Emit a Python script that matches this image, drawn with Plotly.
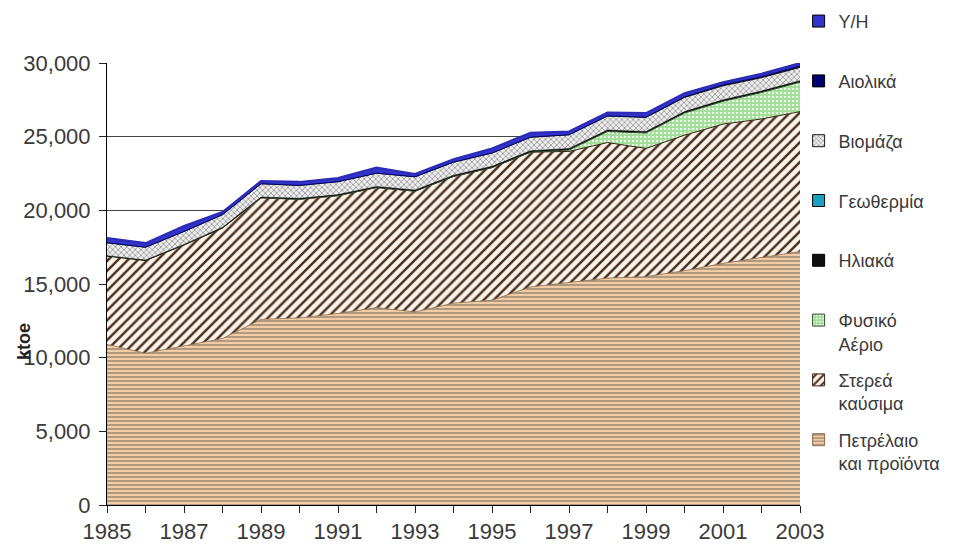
import plotly.graph_objects as go

years = list(range(1985, 2004))
oil = [10900, 10300, 10800, 11300, 12600, 12700, 13000, 13400, 13100, 13700,
       13900, 14800, 15100, 15400, 15500, 15900, 16400, 16800, 17200]
solid = [6000, 6300, 6850, 7500, 8250, 8050, 8000, 8150, 8200, 8600,
         9000, 9150, 8900, 9200, 8700, 9200, 9450, 9400, 9500]
gas = [0, 0, 0, 0, 0, 0, 0, 0, 0, 0, 0, 0, 100, 750, 1050, 1500, 1550, 1800, 2000]
solar = [20, 25, 35, 45, 55, 60, 65, 70, 75, 80, 85, 90, 95, 100, 100, 100, 100, 100, 100]
geo = [1, 1, 1, 2, 2, 2, 2, 2, 2, 2, 2, 2, 2, 2, 2, 2, 2, 2, 2]
biomass = [880, 870, 880, 860, 900, 880, 880, 900, 900, 890,
           900, 920, 930, 950, 960, 960, 950, 900, 900]
wind = [0, 0, 0, 0, 0, 0, 0, 1, 1, 3, 3, 3, 3, 6, 10, 40, 65, 65, 95]
hydro = [330, 280, 370, 180, 190, 240, 250, 380, 190, 200,
         310, 300, 220, 240, 280, 250, 180, 200, 200]

names = ["Πετρέλαιο<br>και προϊόντα", "Στερεά<br>καύσιμα", "Φυσικό<br>Αέριο",
         "Ηλιακά<br> ", "Γεωθερμία<br> ", "Βιομάζα<br> ", "Αιολικά<br> ", "Υ/Η<br> "]
series = [oil, solid, gas, solar, geo, biomass, wind, hydro]

styles = [
    dict(line="#8a6a4a", lw=0.8, pat=dict(shape="-", fgcolor="#a08a78", bgcolor="#f2cda3", size=4, solidity=0.4)),
    dict(line="#3a2414", lw=1.0, pat=dict(shape="/", fgcolor="#4a2e1a", bgcolor="#fbf4ec", size=7, solidity=0.35)),
    dict(line="#2e4a2e", lw=1.0, pat=dict(shape=".", fgcolor="#e9f7e4", bgcolor="#9fdc98", size=4, solidity=0.35)),
    dict(line="#000000", lw=1.0, color="#111111"),
    dict(line="#0a0a0a", lw=0.5, color="#1aa0c0"),
    dict(line="#1a1a1a", lw=1.0, pat=dict(shape="x", fgcolor="#7d7d7d", bgcolor="#eeeeee", size=4, solidity=0.3)),
    dict(line="#000060", lw=1.0, color="#000070"),
    dict(line="#2b2bb5", lw=2.0, color="#3333cc"),
]

fig = go.Figure()
for nm, ys, st in zip(names, series, styles):
    kw = dict(x=years, y=ys, mode="lines", stackgroup="one", showlegend=False,
              line=dict(color=st["line"], width=st["lw"]), hoverinfo="skip", name=nm)
    if "pat" in st:
        kw["fillcolor"] = st["pat"]["bgcolor"]
        kw["fillpattern"] = dict(fillmode="replace", **st["pat"])
    else:
        kw["fillcolor"] = st["color"]
    fig.add_trace(go.Scatter(**kw))

# legend entries (square swatches like the reference), top layer listed first
for i in reversed(range(len(names))):
    nm, st = names[i], styles[i]
    if "pat" in st:
        marker = dict(color=st["pat"]["bgcolor"], line=dict(color=st["line"], width=1),
                      pattern=dict(fillmode="replace", **st["pat"]))
    else:
        marker = dict(color=st["color"], line=dict(color="#000000", width=1))
    fig.add_trace(go.Bar(x=[None], y=[None], name=nm, marker=marker,
                         legendgroup="g%d" % i, showlegend=True, hoverinfo="skip"))

tickvals = years
ticktext = [str(y) if (y - 1985) % 2 == 0 else "" for y in years]

fig.update_layout(
    width=946, height=536,
    margin=dict(l=99, r=154, t=55, b=39, autoexpand=False),
    paper_bgcolor="white", plot_bgcolor="white",
    font=dict(family="Liberation Sans, Arial, sans-serif", color="#3a3a3a"),
    showlegend=True,
    legend=dict(x=0.998, xanchor="left", y=1.136, yanchor="top",
                traceorder="grouped", tracegroupgap=10, maxheight=540,
                font=dict(size=18, color="#3a3a3a"), valign="top",
                bgcolor="rgba(0,0,0,0)"),
    xaxis=dict(range=[1985, 2003], tickmode="array", tickvals=tickvals, ticktext=ticktext,
               ticks="outside", ticklen=7, tickcolor="#222", showgrid=False,
               showline=True, linecolor="#000", linewidth=1, zeroline=False,
               tickfont=dict(size=22, color="#3a3a3a")),
    yaxis=dict(range=[0, 30000], dtick=5000, tickformat=",", ticks="outside", ticklen=7,
               tickcolor="#222", showgrid=True, gridcolor="#444444", gridwidth=1,
               showline=True, linecolor="#000", linewidth=1, zeroline=False,
               tickfont=dict(size=22, color="#3a3a3a"), ticklabelstandoff=4),
    annotations=[dict(text="<b>ktoe</b>", xref="paper", yref="paper", x=-0.119, y=0.37,
                      textangle=-90, showarrow=False, font=dict(size=18, color="#222"),
                      xanchor="center", yanchor="middle")],
)

fig.write_html("out.html")
